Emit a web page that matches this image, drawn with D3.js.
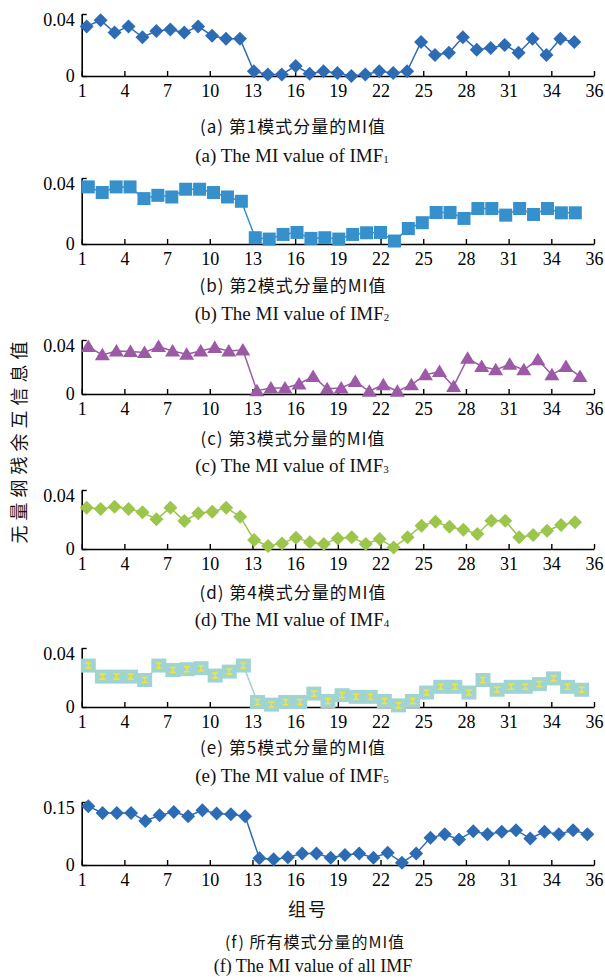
<!DOCTYPE html>
<html>
<head>
<meta charset="utf-8">
<script src="https://cdn.jsdelivr.net/npm/d3@7"></script>
<style>
  body { margin: 0; background: #fff; }
  svg { display: block; }
</style>
</head>
<body>
<div id="chart"></div>
<script>
// group numbers (x categories)
const groups = [1,2,3,4,5,6,7,8,9,10,11,12,13,14,15,16,17,18,19,20,21,22,23,24,25,26,27,28,29,30,31,32,33,34,35,36];
// tick labels are evenly spaced along the axis (the last one reads 36)
const xTickLabels = ["1","4","7","10","13","16","19","22","25","28","31","34","36"];

// MI values
const imf1 = [0.032,0.036,0.028,0.032,0.025,0.029,0.030,0.028,0.032,0.026,0.024,0.024,
              0.003,0.001,0.001,0.0065,0.0015,0.003,0.002,0.0,0.001,0.003,0.002,0.003,
              0.022,0.0135,0.015,0.025,0.017,0.018,0.020,0.015,0.024,0.0135,0.024,0.022];
const imf2 = [0.0346,0.0312,0.0346,0.0346,0.0275,0.0295,0.0285,0.0332,0.0332,0.0312,0.0285,0.0259,
              0.0038,0.003,0.0058,0.007,0.0034,0.0038,0.003,0.0058,0.0068,0.007,0.0018,0.0094,
              0.0129,0.0191,0.0191,0.0155,0.0215,0.0215,0.0175,0.0215,0.0179,0.0215,0.0189,0.0189];
const imf3 = [0.0351,0.029,0.0319,0.0314,0.0307,0.0351,0.0319,0.0294,0.0319,0.0344,0.0319,0.0326,
              0.0025,0.0044,0.0044,0.0074,0.013,0.0039,0.0044,0.0093,0.002,0.0069,0.002,0.0069,
              0.0142,0.0167,0.0056,0.0265,0.0204,0.0179,0.0221,0.0179,0.0253,0.0142,0.0204,0.013];
const imf4 = [0.028,0.0271,0.0287,0.0271,0.0249,0.0201,0.028,0.019,0.0242,0.0253,0.028,0.0219,
              0.0061,0.002,0.0038,0.0077,0.0045,0.0034,0.0072,0.0079,0.0034,0.0068,0.0011,0.0079,
              0.0158,0.0185,0.0151,0.0131,0.0102,0.0192,0.0192,0.0079,0.0095,0.0124,0.0163,0.0181];
const imf5 = [0.0281,0.0206,0.0206,0.0206,0.0183,0.0281,0.0251,0.0256,0.0263,0.0213,0.024,0.0281,
              0.0034,0.0016,0.0034,0.0034,0.0091,0.0041,0.008,0.0069,0.0069,0.0041,0.0011,0.0041,
              0.0098,0.0137,0.0137,0.0098,0.0183,0.0117,0.0137,0.0137,0.0155,0.0194,0.0137,0.0117];
const allImf = [0.1397,0.124,0.124,0.124,0.105,0.1184,0.1263,0.116,0.1303,0.1224,0.1208,0.116,
                0.0158,0.0134,0.0182,0.0276,0.0276,0.0174,0.0237,0.0276,0.0174,0.0292,0.0055,0.0276,
                0.0647,0.0734,0.0608,0.0805,0.0734,0.0789,0.0829,0.0632,0.0789,0.0734,0.0829,0.0734];

const yTicksSmall = [0, 0.04];
const yTicksAll = [0, 0.15];

const zhCaptions = ["(a)  第1模式分量的MI值","(b)  第2模式分量的MI值","(c)  第3模式分量的MI值",
                    "(d)  第4模式分量的MI值","(e)  第5模式分量的MI值","(f)  所有模式分量的MI值"];
const enCaptions = ["(a)  The MI value of IMF","(b)  The MI value of IMF","(c)  The MI value of IMF",
                    "(d)  The MI value of IMF","(e)  The MI value of IMF","(f)  The MI value of all IMF"];
const enSubs = ["1","2","3","4","5",""];

const yLabel = "无量纲残余互信息值";
const xLabel = "组号";

// layout for each panel
const panels = [
  {data: imf1, ticks: yTicksSmall, marker: "diamond", color: "#2d6cb5", top: 14,  bottom: 76,  pts: [86.7, 574.3], c1: 125, c2: 155},
  {data: imf2, ticks: yTicksSmall, marker: "square",  color: "#3690cc", top: 178, bottom: 244, pts: [88.3, 575.3], c1: 284, c2: 313},
  {data: imf3, ticks: yTicksSmall, marker: "triangle",color: "#9c5aa6", top: 340, bottom: 394, pts: [88.3, 580],   c1: 437, c2: 465},
  {data: imf4, ticks: yTicksSmall, marker: "diamond", color: "#9cc54b", top: 490, bottom: 549, pts: [86.7, 575],   c1: 591, c2: 619},
  {data: imf5, ticks: yTicksSmall, marker: "ibeam",   color: "#9fd4d2", top: 648, bottom: 707, pts: [88.3, 581.7], c1: 746, c2: 775},
  {data: allImf, ticks: yTicksAll, marker: "diamond", color: "#2d6cb5", top: 802, bottom: 865, pts: [88.3, 587.3], c1: 941, c2: 966}
];

const W = 605, H = 979;
const axisLeftX = 81.7, axisRightX = 594;
const serif = "'Liberation Serif', 'Times New Roman', serif";
const cjk = "'Noto Sans CJK SC', sans-serif";

const svg = d3.select("#chart").append("svg")
  .attr("width", W).attr("height", H)
  .style("background", "#fff");

const xAxisScale = d3.scalePoint().domain(xTickLabels).range([axisLeftX, axisRightX]);

panels.forEach(function(p, i) {
  let g = svg.append("g").attr("class", "panel-" + i);
  let last = i === panels.length - 1;

  let x = d3.scaleLinear().domain([1, 36]).range(p.pts);
  let y = d3.scaleLinear().domain([0, d3.max(p.ticks)]).range([p.bottom, p.top]);

  // x axis
  let xa = g.append("g")
    .attr("transform", `translate(0, ${p.bottom})`)
    .call(d3.axisBottom(xAxisScale).tickSizeInner(-5).tickSizeOuter(0).tickPadding(8));
  xa.selectAll("text").attr("font-family", serif).attr("font-size", 18).attr("fill", "#000");

  // y axis
  let ya = g.append("g")
    .attr("transform", `translate(${axisLeftX}, 0)`)
    .call(d3.axisLeft(y).tickValues(p.ticks).tickFormat(d => d === 0 ? "0" : String(d)).tickSizeInner(-5).tickSizeOuter(0).tickPadding(7));
  ya.selectAll("text").attr("font-family", serif).attr("font-size", 18).attr("fill", "#000")
    .attr("dy", d => d === 0 ? "0.32em" : "0.62em");

  [xa, ya].forEach(a => {
    a.select(".domain").attr("stroke", "#000").attr("stroke-width", 1.6);
    a.selectAll(".tick line").attr("stroke", "#000").attr("stroke-width", 1.4);
  });

  // line
  g.append("path")
    .datum(p.data)
    .attr("fill", "none")
    .attr("stroke", p.color)
    .attr("stroke-width", 1.5)
    .attr("d", d3.line().x((d, j) => x(groups[j])).y(d => y(d)));

  // markers
  let m = g.selectAll(".mk").data(p.data).enter().append("g")
    .attr("class", "mk")
    .attr("transform", (d, j) => `translate(${x(groups[j])}, ${y(d)})`);

  if (p.marker === "diamond") {
    m.append("path").attr("d", "M0,-7L7,0L0,7L-7,0Z").attr("fill", p.color);
  } else if (p.marker === "square") {
    m.append("rect").attr("x", -6.5).attr("y", -6.5).attr("width", 13).attr("height", 13).attr("fill", p.color);
  } else if (p.marker === "triangle") {
    m.append("path").attr("d", "M0,-7L7.5,5.5L-7.5,5.5Z").attr("fill", p.color);
  } else if (p.marker === "ibeam") {
    m.append("rect").attr("x", -7.5).attr("y", -7).attr("width", 15).attr("height", 14).attr("fill", p.color);
    m.append("path").attr("d", "M-3,-2.5H3M-3,2.5H3M0,-2.5V2.5")
      .attr("stroke", "#f2e23c").attr("stroke-width", 1.6).attr("fill", "none");
  }

  // captions
  g.append("text")
    .attr("x", last ? 315 : 293).attr("y", p.c1)
    .attr("text-anchor", "middle").attr("dominant-baseline", "central")
    .attr("font-family", cjk).attr("font-size", last ? 16 : 17).attr("letter-spacing", 1).attr("fill", "#111")
    .text(zhCaptions[i]);

  let en = g.append("text")
    .attr("x", last ? 313 : 292).attr("y", p.c2)
    .attr("text-anchor", "middle").attr("dominant-baseline", "central")
    .attr("font-family", serif).attr("font-size", last ? 18 : 19).attr("fill", "#111");
  en.append("tspan").text(enCaptions[i]);
  if (enSubs[i]) {
    en.append("tspan").attr("font-size", 11).attr("dy", 4).text(enSubs[i]);
  }
});

// axis titles
svg.append("text")
  .attr("x", 308).attr("y", 908)
  .attr("text-anchor", "middle").attr("dominant-baseline", "central")
  .attr("font-family", cjk).attr("font-size", 18).attr("letter-spacing", 2).attr("fill", "#111")
  .text(xLabel);

svg.append("text")
  .attr("transform", "translate(18, 440) rotate(-90)")
  .attr("text-anchor", "middle").attr("dominant-baseline", "central")
  .attr("font-family", cjk).attr("font-size", 18).attr("letter-spacing", 5).attr("fill", "#111")
  .text(yLabel);
</script>
</body>
</html>
